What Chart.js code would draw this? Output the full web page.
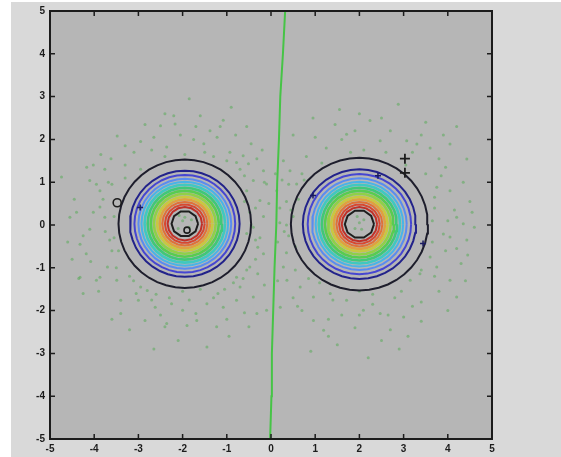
<!DOCTYPE html>
<html>
<head>
<meta charset="utf-8">
<script src="https://cdn.jsdelivr.net/npm/chart.js@4.4.0/dist/chart.umd.min.js"></script>
<style>
  html, body { margin: 0; padding: 0; background: #fff; }
  canvas { display: block; }
</style>
</head>
<body>
<canvas id="plot" width="561" height="457"></canvas>
<script>
// Two Gaussian clusters with contour rings and a separating line

// Axis ticks
const xTicks = [-5, -4, -3, -2, -1, 0, 1, 2, 3, 4, 5];
const yTicks = [-5, -4, -3, -2, -1, 0, 1, 2, 3, 4, 5];

// Cluster centres
const leftCenter = [-1.95, 0.03];
const rightCenter = [2.0, 0.02];

// Contour rings, outer to inner
const leftRingRadii = [1.50, 1.24, 1.14, 1.05, 0.98, 0.91, 0.84, 0.77, 0.70, 0.63, 0.57, 0.51, 0.45, 0.39, 0.30];
const rightRingRadii = [1.55, 1.28, 1.17, 1.07, 0.99, 0.92, 0.85, 0.78, 0.71, 0.64, 0.58, 0.52, 0.46, 0.40, 0.33];
const ringColors = ['#1e1e2c', '#22228a', '#4646d2', '#5a8cf0', '#48b4e8', '#40c8c0', '#40c878', '#58cc50',
  '#90d048', '#c8c840', '#e0a040', '#e07038', '#d84830', '#c03028', '#1e1e1e'];
const ringSides = [44, 40, 40, 36, 36, 32, 32, 28, 28, 24, 24, 20, 18, 16, 10];

// Separating line
const lineX = [-0.02, 0.01, 0.02, 0.05, 0.08, 0.12, 0.14, 0.18, 0.21, 0.27, 0.32];
const lineY = [-5, -4, -3, -2, -1, 0, 1, 2, 3, 4, 5];

// Sample points
const leftDots = [
  [-1.85, 2.95], [-2.40, 2.60], [-1.08, 2.45], [-2.50, 2.32], [-2.17, 2.36], [-2.05, 2.10], [-1.38, 2.20],
  [-1.22, 2.05], [-3.48, 2.08], [-1.75, 2.00], [-1.52, 1.90], [-2.36, 1.82], [-2.70, 1.75], [-3.10, 1.70],
  [-0.93, 1.70], [-0.63, 1.62], [-0.32, 1.55], [-2.95, 1.95], [-1.60, 2.55], [-0.80, 2.10], [-2.85, 2.35],
  [-1.95, 1.65], [-1.30, 1.60], [-0.55, 2.30],
  [-4.02, 1.40], [-4.17, 1.35], [-3.76, 1.30], [-3.30, 1.40], [-4.74, 1.12], [-4.10, 1.04], [-3.87, 0.80],
  [-3.68, 1.00], [-4.55, 0.18], [-4.32, -0.45], [-4.02, 0.30], [-3.76, 0.18], [-3.87, 0.42], [-4.25, -0.25],
  [-3.60, -0.60], [-3.70, -0.98], [-4.18, -0.67], [-4.08, -0.85], [-3.87, -1.22], [-4.35, -1.25], [-3.80, 0.60],
  [-3.55, -0.30], [-4.45, 0.60], [-3.62, 1.55],
  [-0.78, 1.46], [-0.51, 1.43], [-0.17, 1.27], [-0.40, 1.04], [-0.10, 0.96], [-0.55, 0.80], [-0.25, 0.57],
  [-0.48, 0.30], [-0.17, 0.20], [-0.40, -0.05], [-0.55, -0.20], [-0.25, -0.30], [-0.30, -0.52], [-0.17, -0.67],
  [-0.48, -0.98], [-0.30, -1.14], [-0.63, -1.25], [-0.78, -1.22], [-0.20, 1.75], [-0.60, 0.55], [-0.35, -0.80],
  [-3.11, -1.30], [-4.32, -1.22], [-3.95, -1.29], [-3.49, -1.29], [-2.95, -1.45], [-2.80, -1.53], [-3.40, -1.76],
  [-3.00, -1.76], [-2.62, -1.92], [-2.25, -1.84], [-2.00, -1.99], [-1.70, -2.07], [-1.45, -1.84], [-1.08, -1.92],
  [-0.78, -1.76], [-0.40, -1.68], [-0.32, -2.07], [-3.40, -2.07], [-2.85, -2.23], [-2.40, -2.38], [-2.36, -2.30],
  [-1.68, -2.23], [-1.23, -2.38], [-0.50, -2.38], [-0.10, -1.99], [-4.25, -1.60], [-2.00, -1.55], [-1.60, -1.50],
  [-1.20, -1.60], [-2.60, -1.62], [-3.20, -2.45], [-2.10, -2.70], [-1.45, -2.85], [-0.95, -2.60], [-2.65, -2.90],
  [-3.60, -2.20], [-0.70, -1.45],
  [-3.60, 0.95], [-3.55, 0.20], [-3.65, -0.35], [-3.50, -1.00], [-3.20, -1.20], [-2.70, -1.75], [-1.30, -1.70],
  [-0.85, -1.35], [-0.35, -0.35], [-0.35, 0.40], [-0.60, 1.15], [-1.00, 1.50], [-1.50, 1.70], [-2.40, 1.60],
  [-2.95, 1.30], [-3.30, 1.10], [-3.45, -0.60], [-3.05, -1.60], [-2.30, -1.70], [-1.85, -1.75], [-1.05, -1.50],
  [-0.55, -1.05], [-0.45, 0.00], [-0.70, 1.30], [-3.75, -0.15], [-3.95, 0.95], [-4.10, -0.10], [-4.40, 0.30],
  [-3.90, -1.55], [-2.50, -2.10], [-1.90, -2.35], [-1.00, -2.20], [-0.60, -2.05], [-0.15, -1.40], [-0.05, 0.50],
  [-0.15, 1.00], [-0.45, 1.90], [-1.15, 2.30], [-2.65, 2.05], [-3.30, 1.85], [-3.85, 1.65], [-4.50, -0.80],
  [-2.20, 2.55], [-1.70, 2.30], [-0.90, 2.75], [-4.60, -0.40],
  [-2.00, 0.10], [-1.85, -0.05], [-2.10, -0.08], [-1.95, 0.18], [-1.80, 0.12], [-2.08, 0.22]
];
const rightDots = [
  [2.88, 2.82], [2.24, 2.44], [1.71, 2.12], [1.60, 2.00], [1.90, 2.20], [2.47, 1.97], [3.07, 1.97], [3.30, 1.89],
  [3.60, 1.80], [4.05, 1.89], [4.43, 1.54], [1.25, 1.80], [1.45, 2.35], [2.10, 1.75], [2.70, 2.20], [3.50, 2.40],
  [1.00, 2.05], [0.80, 1.60], [3.80, 1.55], [2.00, 2.60], [4.20, 2.30], [3.20, 1.70],
  [0.28, 1.50], [0.43, 1.27], [0.58, 0.96], [0.13, 0.80], [0.35, 0.55], [0.50, 0.20], [0.20, 0.05],
  [0.40, -0.25], [0.55, -0.50], [0.28, -0.98], [0.36, -1.29], [0.15, -0.40], [0.62, 0.60], [0.70, 1.20], [0.25, 1.05],
  [3.75, 0.88], [4.05, 0.80], [4.20, 0.18], [4.35, 0.03], [3.90, -0.21], [4.05, -0.28], [4.43, -0.35], [3.60, -0.75],
  [3.75, -0.98], [4.05, -1.29], [3.70, 0.40], [4.50, 0.55], [3.85, 1.15], [4.15, 0.35], [3.95, -0.60], [4.30, -0.90],
  [3.65, 0.10], [4.60, -0.05],
  [3.37, -1.14], [3.15, -1.29], [0.66, -1.45], [0.96, -1.68], [1.34, -1.60], [1.71, -1.76], [2.09, -1.99],
  [2.47, -2.07], [3.00, -2.15], [0.96, -2.23], [1.19, -2.46], [0.21, -1.92], [4.20, -1.68], [3.40, -1.80],
  [2.80, -1.70], [2.30, -1.62], [1.90, -2.40], [1.50, -2.80], [2.50, -2.70], [3.40, -2.25], [0.70, -2.00],
  [1.10, -1.35], [3.80, -1.55], [2.00, -1.55], [2.70, -2.45], [0.50, -1.70], [1.60, -2.10], [3.10, -2.60],
  [0.90, -2.95], [2.20, -3.10],
  [0.40, 0.95], [0.35, -0.65], [0.55, -1.05], [0.85, -1.25], [1.40, -1.75], [2.30, -1.85], [2.95, -1.55],
  [3.40, -1.05], [3.65, -0.40], [3.70, 0.65], [3.50, 1.20], [3.05, 1.40], [2.60, 1.70], [1.80, 1.70],
  [1.15, 1.45], [0.75, 1.05], [0.45, 0.35], [0.30, -0.15], [4.00, 0.10], [4.20, -0.55], [3.95, 1.35],
  [4.35, 1.00], [4.55, 0.30], [0.10, 1.20], [0.15, -1.30], [0.60, -1.90], [1.30, -2.20], [2.00, -2.10],
  [2.65, -2.10], [3.20, -1.90], [3.70, -1.20], [4.40, -1.30], [1.55, 2.70], [2.50, 2.50], [3.40, 2.10],
  [0.50, 2.10], [0.95, 2.50], [1.30, -2.60], [2.90, -2.90], [4.00, -2.00], [3.90, 2.10], [0.35, 0.00],
  [4.45, -0.70], [0.20, 0.40],
  [2.00, 0.05], [1.90, -0.08], [2.10, 0.12], [2.05, -0.10], [1.95, 0.20]
];

// Odd markers
const circleMarks = [[-3.48, 0.52], [-1.90, -0.12]];
const plusMarks = [[3.03, 1.55], [3.03, 1.22]];
const smallPlusMarks = [[2.42, 1.15], [0.95, 0.69], [3.44, -0.43], [-2.96, 0.41]];

// Build a contour ring as a closed polygon around a centre
function ringPoints(center, r, sides) {
  const pts = [];
  for (let i = 0; i <= sides; i++) {
    const a = (i / sides) * Math.PI * 2;
    pts.push({ x: center[0] + r * Math.cos(a), y: center[1] + r * Math.sin(a) });
  }
  return pts;
}

function toPoints(pairs) {
  return pairs.map(p => ({ x: p[0], y: p[1] }));
}

const datasets = [];

// dots at the back
datasets.push({
  data: toPoints(leftDots.concat(rightDots)),
  pointRadius: 1.5,
  pointBackgroundColor: 'rgba(80, 170, 80, 0.5)',
  pointBorderWidth: 0,
  showLine: false,
  order: 9
});

// contour rings
[[leftCenter, leftRingRadii], [rightCenter, rightRingRadii]].forEach(([c, radii]) => {
  radii.forEach((r, i) => {
    datasets.push({
      data: ringPoints(c, r, ringSides[i]),
      showLine: true,
      borderColor: ringColors[i],
      borderWidth: i > 4 && i < 11 ? 2.6 : 2,
      pointRadius: 0,
      tension: 0,
      order: 5
    });
  });
});

// separating line
datasets.push({
  data: lineX.map((x, i) => ({ x, y: lineY[i] })),
  showLine: true,
  borderColor: '#46c446',
  borderWidth: 2,
  pointRadius: 0,
  order: 2
});

datasets.push({
  data: toPoints(circleMarks),
  pointStyle: 'circle',
  pointRadius: [4, 3],
  pointBackgroundColor: 'rgba(0,0,0,0)',
  pointBorderColor: '#1c1c1c',
  pointBorderWidth: 1.6,
  order: 1
});
datasets.push({
  data: toPoints(plusMarks),
  pointStyle: 'cross',
  pointRadius: 5,
  pointBorderColor: '#1c1c1c',
  pointBorderWidth: 1.8,
  order: 1
});
datasets.push({
  data: toPoints(smallPlusMarks),
  pointStyle: 'cross',
  pointRadius: 3,
  pointBorderColor: '#1a1a60',
  pointBorderWidth: 1.5,
  order: 1
});

// Background, frame and inward ticks
const framePlugin = {
  id: 'frame',
  beforeDraw(chart) {
    const { ctx, chartArea: a, width, height } = chart;
    ctx.save();
    ctx.fillStyle = '#ffffff';
    ctx.fillRect(0, 0, width, height);
    ctx.fillStyle = '#d9d9d9';
    ctx.fillRect(11, 2, width - 11, height - 2);
    ctx.fillStyle = '#b6b6b6';
    ctx.fillRect(a.left, a.top, a.right - a.left, a.bottom - a.top);
    ctx.restore();
  },
  afterDraw(chart) {
    const { ctx, chartArea: a, scales } = chart;
    ctx.save();
    ctx.strokeStyle = '#1c1c1c';
    ctx.lineWidth = 2;
    ctx.strokeRect(a.left, a.top, a.right - a.left, a.bottom - a.top);
    ctx.lineWidth = 1.5;
    ctx.beginPath();
    xTicks.forEach(v => {
      const px = scales.x.getPixelForValue(v);
      ctx.moveTo(px, a.bottom); ctx.lineTo(px, a.bottom - 5);
      ctx.moveTo(px, a.top); ctx.lineTo(px, a.top + 5);
    });
    yTicks.forEach(v => {
      const py = scales.y.getPixelForValue(v);
      ctx.moveTo(a.left, py); ctx.lineTo(a.left + 5, py);
      ctx.moveTo(a.right, py); ctx.lineTo(a.right - 5, py);
    });
    ctx.stroke();
    ctx.restore();
  }
};

const tickFont = { family: 'Liberation Sans', size: 10, weight: 'bold' };

new Chart(document.getElementById('plot'), {
  type: 'scatter',
  data: { datasets },
  options: {
    responsive: false,
    animation: false,
    devicePixelRatio: 1,
    layout: { padding: { left: 0, top: 10, right: 69, bottom: 0 } },
    plugins: { legend: { display: false }, tooltip: { enabled: false } },
    elements: { line: { fill: false } },
    scales: {
      x: {
        type: 'linear',
        min: xTicks[0],
        max: xTicks[xTicks.length - 1],
        afterBuildTicks: s => { s.ticks = xTicks.map(v => ({ value: v })); },
        afterFit: s => { s.height = 18; },
        grid: { display: false, drawTicks: false },
        border: { display: false },
        ticks: { color: '#1c1c1c', font: tickFont, padding: 4, maxRotation: 0 }
      },
      y: {
        type: 'linear',
        min: yTicks[0],
        max: yTicks[yTicks.length - 1],
        afterBuildTicks: s => { s.ticks = yTicks.map(v => ({ value: v })); },
        afterFit: s => { s.width = 50; },
        grid: { display: false, drawTicks: false },
        border: { display: false },
        ticks: { color: '#1c1c1c', font: tickFont, padding: 5 }
      }
    }
  },
  plugins: [framePlugin]
});
</script>
</body>
</html>
